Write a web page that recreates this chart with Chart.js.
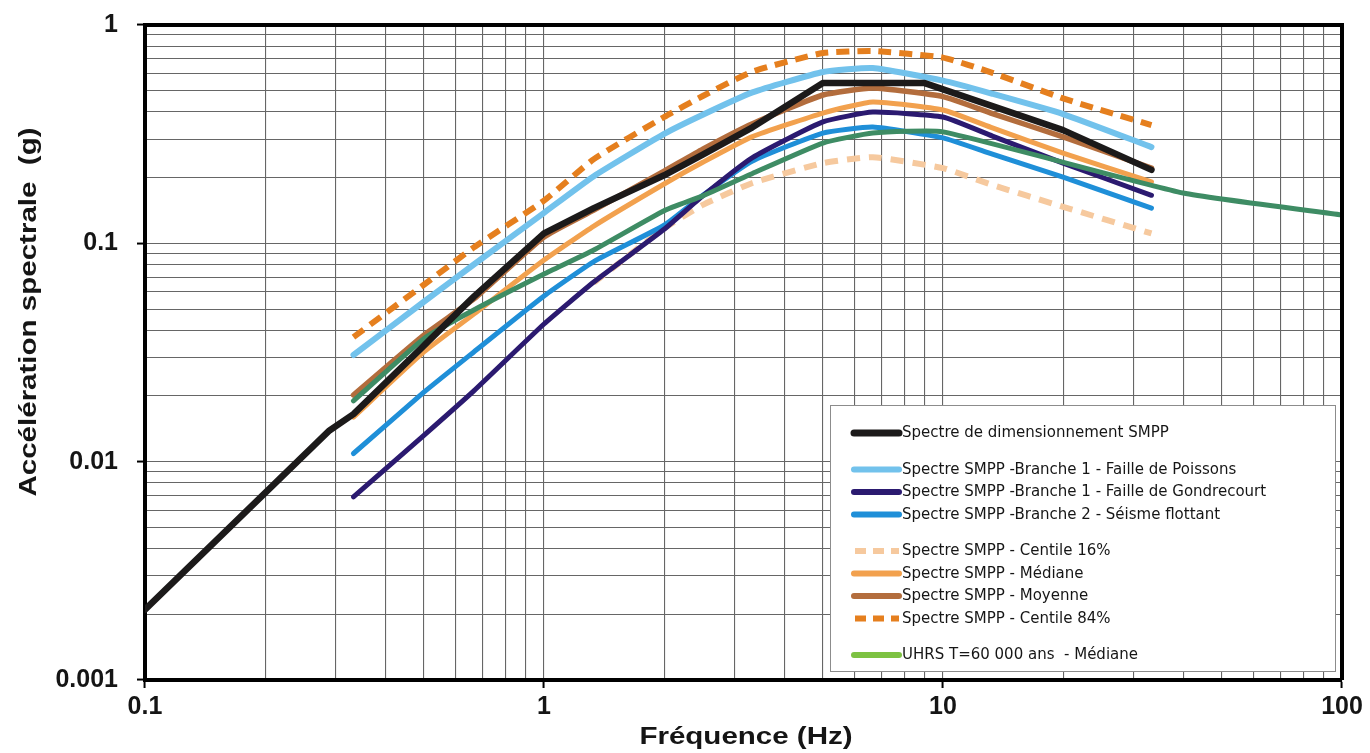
<!DOCTYPE html>
<html>
<head>
<meta charset="utf-8">
<title>Spectres SMPP</title>
<script src="https://cdn.jsdelivr.net/npm/chart.js@4.4.1/dist/chart.umd.min.js"></script>
<style>
  html, body { margin: 0; padding: 0; background: #fff; }
</style>
</head>
<body>
<canvas id="spectreChart" width="1370" height="753"></canvas>
<script>
// axes
const xDecades = [0.1, 1, 10, 100];
const yDecades = [0.001, 0.01, 0.1, 1];
const xTitle = "Fréquence (Hz)";
const yTitle = "Accélération spectrale  (g)";

// spectre de dimensionnement (noir)
const freqDesign = [0.1, 0.29, 0.333, 0.5, 0.667, 1, 1.333, 2, 2.5, 3.33, 5, 9, 20, 33.3];
const designSMPP = [0.0021, 0.0139, 0.0165, 0.034, 0.057, 0.111, 0.145, 0.205, 0.255, 0.34, 0.542, 0.542, 0.33, 0.217];

// spectres SMPP (branches + statistiques)
const freqSMPP = [0.333, 0.5, 0.667, 1, 1.333, 2, 2.5, 3.33, 5, 6.67, 10, 13.3, 20, 33.3];
const poissons    = [0.0308, 0.054, 0.080, 0.138, 0.203, 0.317, 0.388, 0.491, 0.609, 0.635, 0.556, 0.484, 0.391, 0.276];
const gondrecourt = [0.0069, 0.0132, 0.0211, 0.0427, 0.0665, 0.116, 0.165, 0.247, 0.360, 0.399, 0.379, 0.310, 0.233, 0.166];
const flottant    = [0.0109, 0.0208, 0.0318, 0.0574, 0.0825, 0.121, 0.166, 0.238, 0.320, 0.341, 0.304, 0.256, 0.201, 0.145];
const centile16   = [null, null, null, null, 0.066, 0.117, 0.150, 0.189, 0.233, 0.248, 0.221, 0.185, 0.147, 0.111];
const mediane     = [0.016, 0.0318, 0.0474, 0.0838, 0.120, 0.187, 0.235, 0.308, 0.395, 0.444, 0.408, 0.338, 0.259, 0.191];
const moyenne     = [0.0202, 0.038, 0.0556, 0.107, 0.142, 0.214, 0.270, 0.353, 0.478, 0.514, 0.470, 0.393, 0.307, 0.221];
const centile84   = [0.0372, 0.0646, 0.0958, 0.157, 0.243, 0.379, 0.473, 0.612, 0.744, 0.760, 0.709, 0.604, 0.461, 0.348];

// UHRS (vert)
const freqUHRS = [0.333, 0.5, 0.667, 1, 1.333, 2, 2.5, 3.33, 5, 6.67, 10, 40, 100];
const uhrs     = [0.019, 0.0366, 0.0495, 0.0723, 0.0932, 0.141, 0.165, 0.209, 0.288, 0.320, 0.324, 0.170, 0.135];

function toPoints(freqs, values) {
  return freqs.map((f, i) => ({ x: f, y: values[i] })).filter(p => p.y !== null);
}

// ticks 1..9 x 10^n pour la grille log
function gridTicks(decades) {
  const ticks = [];
  decades.forEach((d, i) => {
    if (i === decades.length - 1) {
      ticks.push({ value: d, major: true });
      return;
    }
    for (let m = 1; m <= 9; m++) {
      ticks.push({ value: parseFloat((d * m).toPrecision(3)), major: m === 1 });
    }
  });
  return ticks;
}

const tickFont = { family: '"Liberation Sans", Arial, sans-serif', size: 25, weight: 'bold' };

// legende, titres d'axes, cadre
const decorPlugin = {
  id: 'decor',
  afterDatasetsDraw(chart) {
    const ctx = chart.ctx;
    ctx.save();
    ctx.fillStyle = '#fff';
    ctx.fillRect(830, 405, 505, 266);
    ctx.strokeStyle = '#8c8c8c';
    ctx.lineWidth = 1;
    ctx.strokeRect(830.5, 405.5, 505, 266);

    let y = 433;
    chart.data.datasets.forEach((ds, i) => {
      if (i > 0) y += ds.legendGap ? 36.5 : 22.5;
      ctx.beginPath();
      ctx.setLineDash(ds.borderDash ? [11, 7] : []);
      ctx.lineCap = ds.borderDash ? 'butt' : 'round';
      ctx.strokeStyle = ds.legendColor || ds.borderColor;
      ctx.lineWidth = i === 0 ? 7 : 6;
      ctx.moveTo(ds.borderDash ? 855 : 854, y);
      ctx.lineTo(899, y);
      ctx.stroke();
      ctx.setLineDash([]);
      ctx.fillStyle = '#161616';
      ctx.font = '15px "DejaVu Sans", Verdana, sans-serif';
      ctx.textBaseline = 'middle';
      ctx.textAlign = 'left';
      ctx.fillText(ds.label, 902, y + 0.5);
    });
    ctx.restore();
  },
  afterDraw(chart) {
    const ctx = chart.ctx;
    const a = chart.chartArea;
    ctx.save();
    ctx.strokeStyle = '#000';
    ctx.lineWidth = 4;
    ctx.beginPath();
    ctx.moveTo(a.left, a.top);
    ctx.lineTo(a.right, a.top);
    ctx.lineTo(a.right, a.bottom);
    ctx.stroke();

    ctx.fillStyle = '#151515';
    ctx.font = 'bold 24px "Liberation Sans", Arial, sans-serif';
    ctx.textAlign = 'center';
    ctx.textBaseline = 'alphabetic';

    ctx.save();
    ctx.translate(746, 744);
    ctx.scale(1.23, 1);
    ctx.fillText(xTitle, 0, 0);
    ctx.restore();

    ctx.save();
    ctx.translate(36, 312);
    ctx.rotate(-Math.PI / 2);
    ctx.scale(1.23, 1);
    ctx.fillText(yTitle, 0, 0);
    ctx.restore();

    ctx.restore();
  }
};

const ctx = document.getElementById("spectreChart").getContext("2d");

const spectreChart = new Chart(ctx, {
  type: "line",
  data: {
    datasets: [
      {
        label: "Spectre de dimensionnement SMPP",
        data: toPoints(freqDesign, designSMPP),
        borderColor: "#1c1a1a",
        borderWidth: 6.5,
        tension: 0,
        order: 0
      },
      {
        label: "Spectre SMPP -Branche 1 - Faille de Poissons",
        data: toPoints(freqSMPP, poissons),
        borderColor: "#72c2ec",
        borderWidth: 6,
        order: 1,
        legendGap: true
      },
      {
        label: "Spectre SMPP -Branche 1 - Faille de Gondrecourt",
        data: toPoints(freqSMPP, gondrecourt),
        borderColor: "#2b1a70",
        borderWidth: 5,
        order: 3
      },
      {
        label: "Spectre SMPP -Branche 2 - Séisme flottant",
        data: toPoints(freqSMPP, flottant),
        borderColor: "#1f8fd8",
        borderWidth: 5,
        order: 4
      },
      {
        label: "Spectre SMPP - Centile 16%",
        data: toPoints(freqSMPP, centile16),
        borderColor: "#f6c99e",
        borderWidth: 6,
        borderDash: [13, 9],
        borderCapStyle: "butt",
        order: 8,
        legendGap: true
      },
      {
        label: "Spectre SMPP - Médiane",
        data: toPoints(freqSMPP, mediane),
        borderColor: "#f2a14e",
        borderWidth: 5,
        order: 6
      },
      {
        label: "Spectre SMPP - Moyenne",
        data: toPoints(freqSMPP, moyenne),
        borderColor: "#b36d3d",
        borderWidth: 5.5,
        order: 5
      },
      {
        label: "Spectre SMPP - Centile 84%",
        data: toPoints(freqSMPP, centile84),
        borderColor: "#e57f1e",
        borderWidth: 6,
        borderDash: [13, 8],
        borderCapStyle: "butt",
        order: 7
      },
      {
        label: "UHRS T=60 000 ans  - Médiane",
        data: toPoints(freqUHRS, uhrs),
        borderColor: "#3e8c64",
        legendColor: "#7dc242",
        borderWidth: 5,
        order: 2,
        legendGap: true
      }
    ]
  },
  options: {
    responsive: false,
    animation: false,
    layout: { padding: { top: 25, right: 28, left: 0, bottom: 0 } },
    elements: {
      point: { radius: 0 },
      line: { tension: 0.15, borderCapStyle: "round", borderJoinStyle: "round", fill: false }
    },
    plugins: {
      legend: { display: false },
      tooltip: { enabled: false },
      title: { display: false }
    },
    scales: {
      x: {
        type: "logarithmic",
        position: "bottom",
        min: 0.1,
        max: 100,
        afterBuildTicks: scale => { scale.ticks = gridTicks(xDecades); },
        afterFit: scale => { scale.height = 73; scale.paddingLeft = 0; scale.paddingRight = 0; },
        ticks: {
          autoSkip: false,
          maxRotation: 0,
          padding: 4,
          color: "#151515",
          font: tickFont,
          callback: (value, index, ticks) => ticks[index].major ? String(value) : ""
        },
        grid: {
          color: "#666666",
          lineWidth: 1.1,
          tickLength: 8,
          tickWidth: 2,
          tickColor: c => (c.tick && c.tick.major) ? "#000" : "rgba(0,0,0,0)"
        },
        border: { color: "#000", width: 4 }
      },
      y: {
        type: "logarithmic",
        position: "left",
        min: 0.001,
        max: 1,
        afterBuildTicks: scale => { scale.ticks = gridTicks(yDecades); },
        afterFit: scale => { scale.width = 145; scale.paddingTop = 0; scale.paddingBottom = 0; },
        ticks: {
          autoSkip: false,
          padding: 19,
          color: "#151515",
          font: tickFont,
          callback: (value, index, ticks) => ticks[index].major ? String(value) : ""
        },
        grid: {
          color: "#666666",
          lineWidth: 1.1,
          tickLength: 8,
          tickWidth: 2,
          tickColor: c => (c.tick && c.tick.major) ? "#000" : "rgba(0,0,0,0)"
        },
        border: { color: "#000", width: 4 }
      }
    }
  },
  plugins: [decorPlugin]
});
</script>
</body>
</html>
